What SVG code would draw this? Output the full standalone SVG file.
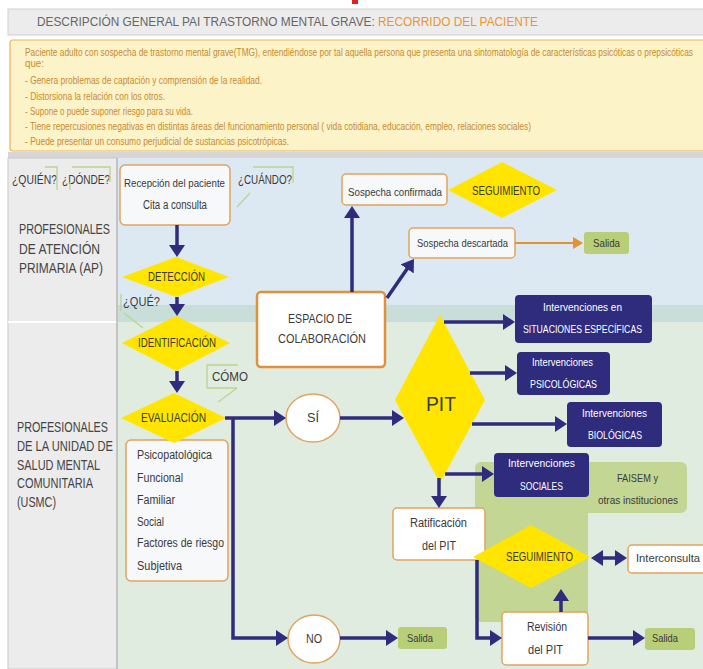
<svg xmlns="http://www.w3.org/2000/svg" width="703" height="669" viewBox="0 0 703 669">
<style>
text{font-family:"Liberation Sans",Arial,sans-serif;fill:#3a3a3a}
.t11{font-size:12px}
.t10{font-size:11px}
.lbl{font-size:14.5px;fill:#444}
.desc{font-size:10.5px;fill:#c88a2c}
.w{fill:#ffffff;font-size:11.5px}
.box{fill:#f6f8fa;stroke:#e0a460;stroke-width:1.5}
.wbox{fill:#ffffff;stroke:#e0a460;stroke-width:1.5}
.dia{fill:#ffe500}
.navy{fill:#2f2b7d}
.olive{fill:#b8ce78}
.ln{fill:none;stroke:#2f2b7d;stroke-width:3.5}
.call{fill:none;stroke:#b9d58f;stroke-width:1.3}
</style>
<defs>
<marker id="an" markerWidth="12" markerHeight="16" refX="4" refY="8" orient="auto" markerUnits="userSpaceOnUse"><path d="M0,0 L12,8 L0,16 z" fill="#2f2b7d"/></marker>
<marker id="as" markerWidth="12" markerHeight="16" refX="4" refY="8" orient="auto-start-reverse" markerUnits="userSpaceOnUse"><path d="M0,0 L12,8 L0,16 z" fill="#2f2b7d"/></marker>
<marker id="ao" markerWidth="10" markerHeight="12" refX="3" refY="6" orient="auto" markerUnits="userSpaceOnUse"><path d="M0,0 L10,6 L0,12 z" fill="#e0932e"/></marker>
</defs>
<rect x="0" y="0" width="703" height="669" fill="#ffffff"/>
<rect x="352" y="0" width="6" height="4" fill="#e02020"/>
<g id="title">
<rect x="8" y="9" width="700" height="26" fill="#ececec" stroke="#cfcfcf"/>
<text x="37" y="26" style="font-size:12.5px;fill:#666" textLength="501" lengthAdjust="spacingAndGlyphs">DESCRIPCIÓN GENERAL PAI TRASTORNO MENTAL GRAVE: <tspan style="fill:#e8962e">RECORRIDO DEL PACIENTE</tspan></text>
</g>
<g id="descripcion">
<rect x="10" y="40" width="700" height="111" rx="3" fill="#fdf3c9" stroke="#e8b464" stroke-width="1.2"/>
<text class="desc" x="25" y="55.5" textLength="668" lengthAdjust="spacingAndGlyphs">Paciente adulto con sospecha de trastorno mental grave(TMG), entendiéndose por tal aquella persona que presenta una sintomatología de características psicóticas o prepsicóticas</text>
<text class="desc" x="25" y="66.5" textLength="19" lengthAdjust="spacingAndGlyphs">que:</text>
<text class="desc" x="25" y="84" textLength="237" lengthAdjust="spacingAndGlyphs">- Genera problemas de captación y comprensión de la realidad.</text>
<text class="desc" x="25" y="99.5" textLength="140" lengthAdjust="spacingAndGlyphs">- Distorsiona la relación con los otros.</text>
<text class="desc" x="25" y="114.5" textLength="168" lengthAdjust="spacingAndGlyphs">- Supone o puede suponer riesgo para su vida.</text>
<text class="desc" x="25" y="129.5" textLength="506" lengthAdjust="spacingAndGlyphs">- Tiene repercusiones negativas en distintas áreas del funcionamiento personal ( vida cotidiana, educación, empleo, relaciones sociales)</text>
<text class="desc" x="25" y="144.5" textLength="264" lengthAdjust="spacingAndGlyphs">- Puede presentar un consumo perjudicial de sustancias psicotrópicas.</text>
</g>
<g id="areas">
<rect x="8" y="152" width="700" height="6" fill="#d6d6d6"/>
<rect x="117" y="158" width="590" height="147" fill="#dde9f2"/>
<rect x="117" y="305" width="590" height="17" fill="#c9ddd9"/>
<rect x="117" y="322" width="590" height="347" fill="#e1ece0"/>
<rect x="8" y="158" width="109" height="511" fill="#ececec" stroke="#c8c8c8"/>
<line x1="8" y1="322" x2="117" y2="322" stroke="#ffffff" stroke-width="2"/>
<line x1="117" y1="158" x2="117" y2="669" stroke="#bcbcbc" stroke-width="1.5"/>
<path d="M475,468 a6,6 0 0 1 6,-6 H681 a6,6 0 0 1 6,6 V507 a6,6 0 0 1 -6,6 H588 V616 a6,6 0 0 1 -6,6 H481 a6,6 0 0 1 -6,-6 Z" fill="#c4d693"/>
</g>
<g id="labels">
<text class="t11" x="12" y="184" textLength="45" lengthAdjust="spacingAndGlyphs">¿QUIÉN?</text>
<text class="t11" x="62" y="184" textLength="48" lengthAdjust="spacingAndGlyphs">¿DÓNDE?</text>
<polyline class="call" points="45,167 57,167 57,190"/>
<polyline class="call" points="70,190 70,182"/>
<polyline class="call" points="72,167 110,167 110,182"/>
<text class="lbl" x="19" y="234" textLength="91" lengthAdjust="spacingAndGlyphs">PROFESIONALES</text>
<text class="lbl" x="19" y="254" textLength="81" lengthAdjust="spacingAndGlyphs">DE ATENCIÓN</text>
<text class="lbl" x="19" y="273" textLength="84" lengthAdjust="spacingAndGlyphs">PRIMARIA (AP)</text>
<text class="lbl" x="17" y="432" textLength="91" lengthAdjust="spacingAndGlyphs">PROFESIONALES</text>
<text class="lbl" x="17" y="451" textLength="96" lengthAdjust="spacingAndGlyphs">DE LA UNIDAD DE</text>
<text class="lbl" x="17" y="470" textLength="83" lengthAdjust="spacingAndGlyphs">SALUD MENTAL</text>
<text class="lbl" x="17" y="488" textLength="76" lengthAdjust="spacingAndGlyphs">COMUNITARIA</text>
<text class="lbl" x="17" y="507" textLength="39" lengthAdjust="spacingAndGlyphs">(USMC)</text>
<text class="t11" x="238" y="184" textLength="54" lengthAdjust="spacingAndGlyphs">¿CUÁNDO?</text>
<polyline class="call" points="253,167 293,167 293,183"/>
<line class="call" x1="250" y1="193" x2="237" y2="207"/>
<text class="t11" x="123" y="306" textLength="37" lengthAdjust="spacingAndGlyphs">¿QUÉ?</text>
<polyline class="call" points="121,294 121,311"/>
<line class="call" x1="124" y1="313" x2="143" y2="328"/>
<text x="212" y="381" style="font-size:13px" textLength="36" lengthAdjust="spacingAndGlyphs">CÓMO</text>
<polyline class="call" points="238,365 207,365 207,388 237,388"/>
<line class="call" x1="237" y1="388" x2="218" y2="402"/>
</g>
<g id="recepcion">
<rect class="box" x="120" y="165" width="110" height="60" rx="5"/>
<text x="124" y="187" style="font-size:11px" textLength="101" lengthAdjust="spacingAndGlyphs">Recepción del paciente</text>
<text class="t11" x="143" y="209" textLength="64" lengthAdjust="spacingAndGlyphs">Cita a consulta</text>
</g>
<g id="deteccion">
<polygon class="dia" points="176,257 229,277 176,297 122,277"/>
<text class="t11" x="148" y="281" textLength="57" lengthAdjust="spacingAndGlyphs">DETECCIÓN</text>
</g>
<g id="identificacion">
<polygon class="dia" points="176,316 230,343 176,371 122,343"/>
<text class="t11" x="138" y="347" textLength="78" lengthAdjust="spacingAndGlyphs">IDENTIFICACIÓN</text>
</g>
<g id="tipos-evaluacion">
<rect class="box" x="126" y="440" width="102" height="141" rx="5"/>
<text class="t11" x="137" y="459" textLength="75" lengthAdjust="spacingAndGlyphs">Psicopatológica</text>
<text class="t11" x="137" y="482" textLength="46" lengthAdjust="spacingAndGlyphs">Funcional</text>
<text class="t11" x="137" y="504" textLength="38" lengthAdjust="spacingAndGlyphs">Familiar</text>
<text class="t11" x="137" y="526" textLength="27" lengthAdjust="spacingAndGlyphs">Social</text>
<text class="t11" x="137" y="547" textLength="87" lengthAdjust="spacingAndGlyphs">Factores de riesgo</text>
<text class="t11" x="137" y="570" textLength="45" lengthAdjust="spacingAndGlyphs">Subjetiva</text>
</g>
<g id="evaluacion">
<polygon class="dia" points="174,393 226,418 174,443 121,418"/>
<text class="t11" x="141" y="422" textLength="65" lengthAdjust="spacingAndGlyphs">EVALUACIÓN</text>
</g>
<g id="espacio">
<rect x="257" y="292" width="128" height="75" rx="4" fill="#ffffff" stroke="#e0913a" stroke-width="2.5"/>
<text x="288" y="323" style="font-size:13.5px" textLength="64" lengthAdjust="spacingAndGlyphs">ESPACIO DE</text>
<text x="278" y="343" style="font-size:13.5px" textLength="88" lengthAdjust="spacingAndGlyphs">COLABORACIÓN</text>
</g>
<g id="confirmada">
<rect class="box" x="342" y="174" width="105" height="31" rx="4"/>
<text class="t10" x="348" y="196" textLength="94" lengthAdjust="spacingAndGlyphs">Sospecha confirmada</text>
</g>
<g id="seguimiento-ap">
<polygon class="dia" points="502,162 557,190 502,218 448,190"/>
<text class="t11" x="472" y="195" textLength="68" lengthAdjust="spacingAndGlyphs">SEGUIMIENTO</text>
</g>
<g id="descartada">
<rect class="box" x="409" y="228" width="106" height="30" rx="4"/>
<text class="t10" x="417" y="247" textLength="91" lengthAdjust="spacingAndGlyphs">Sospecha descartada</text>
</g>
<g id="salida-ap">
<rect class="olive" x="584" y="232" width="45" height="22" rx="3"/>
<text class="t10" x="593" y="247" textLength="27" lengthAdjust="spacingAndGlyphs">Salida</text>
</g>
<g id="si">
<ellipse cx="313" cy="418" rx="27" ry="24" fill="#ffffff" stroke="#e0a460" stroke-width="1.5"/>
<text class="t11" x="307" y="422" textLength="12" lengthAdjust="spacingAndGlyphs">SÍ</text>
</g>
<g id="no">
<ellipse cx="314" cy="639" rx="26" ry="24" fill="#ffffff" stroke="#e0a460" stroke-width="1.5"/>
<text class="t11" x="306" y="643" textLength="16" lengthAdjust="spacingAndGlyphs">NO</text>
</g>
<g id="salida-no">
<rect class="olive" x="398" y="627" width="49" height="22" rx="3"/>
<text class="t10" x="407" y="642" textLength="26" lengthAdjust="spacingAndGlyphs">Salida</text>
</g>
<g id="pit">
<polygon class="dia" points="440,315 485,400 440,483 395,400"/>
<text x="426" y="411" style="font-size:21px" textLength="30" lengthAdjust="spacingAndGlyphs">PIT</text>
</g>
<g id="situaciones">
<rect class="navy" x="515" y="295" width="137" height="48" rx="4"/>
<text class="w" x="543" y="311" textLength="79" lengthAdjust="spacingAndGlyphs">Intervenciones en</text>
<text class="w" x="523" y="333" textLength="119" lengthAdjust="spacingAndGlyphs">SITUACIONES ESPECÍFICAS</text>
</g>
<g id="psicologicas">
<rect class="navy" x="517" y="352" width="93" height="43" rx="4"/>
<text class="w" x="532" y="366" textLength="61" lengthAdjust="spacingAndGlyphs">Intervenciones</text>
<text class="w" x="530" y="388" textLength="67" lengthAdjust="spacingAndGlyphs">PSICOLÓGICAS</text>
</g>
<g id="biologicas">
<rect class="navy" x="567" y="402" width="95" height="45" rx="4"/>
<text class="w" x="582" y="417" textLength="65" lengthAdjust="spacingAndGlyphs">Intervenciones</text>
<text class="w" x="588" y="439" textLength="54" lengthAdjust="spacingAndGlyphs">BIOLÓGICAS</text>
</g>
<g id="sociales">
<rect class="navy" x="494" y="453" width="95" height="44" rx="4"/>
<text class="w" x="508" y="467" textLength="67" lengthAdjust="spacingAndGlyphs">Intervenciones</text>
<text class="w" x="520" y="490" textLength="43" lengthAdjust="spacingAndGlyphs">SOCIALES</text>
</g>
<g id="faisem">
<text class="t10" x="617" y="482" textLength="41" lengthAdjust="spacingAndGlyphs">FAISEM y</text>
<text class="t10" x="598" y="504" textLength="80" lengthAdjust="spacingAndGlyphs">otras instituciones</text>
</g>
<g id="ratificacion">
<rect class="wbox" x="393" y="508" width="92" height="52" rx="4"/>
<text class="t11" x="410" y="527" textLength="57" lengthAdjust="spacingAndGlyphs">Ratificación</text>
<text class="t11" x="422" y="550" textLength="34" lengthAdjust="spacingAndGlyphs">del PIT</text>
</g>
<g id="seguimiento-usmc">
<polygon class="dia" points="531,525 590,557 531,588 473,557"/>
<text class="t11" x="506" y="561" textLength="67" lengthAdjust="spacingAndGlyphs">SEGUIMIENTO</text>
</g>
<g id="interconsulta">
<rect class="wbox" x="628" y="545" width="80" height="28" rx="4"/>
<text x="636" y="562" style="font-size:11px" textLength="64" lengthAdjust="spacingAndGlyphs">Interconsulta</text>
</g>
<g id="revision">
<rect class="wbox" x="502" y="612" width="86" height="53" rx="4"/>
<text class="t11" x="527" y="631" textLength="40" lengthAdjust="spacingAndGlyphs">Revisión</text>
<text class="t11" x="528" y="654" textLength="35" lengthAdjust="spacingAndGlyphs">del PIT</text>
</g>
<g id="salida-revision">
<rect class="olive" x="645" y="628" width="50" height="22" rx="3"/>
<text class="t10" x="652" y="642" textLength="26" lengthAdjust="spacingAndGlyphs">Salida</text>
</g>
<g id="connectors">
<path class="ln" d="M177,225 V249" marker-end="url(#an)"/>
<path class="ln" d="M177,297 V308" marker-end="url(#an)"/>
<path class="ln" d="M177,371 V385" marker-end="url(#an)"/>
<path class="ln" d="M225,418 H278" marker-end="url(#an)"/>
<path class="ln" d="M233,418 V638 H280" marker-end="url(#an)"/>
<path class="ln" d="M340,418 H396" marker-end="url(#an)"/>
<path class="ln" d="M340,638 H390" marker-end="url(#an)"/>
<path class="ln" d="M444,322 H507" marker-end="url(#an)"/>
<path class="ln" d="M470,373 H509" marker-end="url(#an)"/>
<path class="ln" d="M472,424 H559" marker-end="url(#an)"/>
<path class="ln" d="M445,474 H486" marker-end="url(#an)"/>
<path class="ln" d="M439,478 V500" marker-end="url(#an)"/>
<path class="ln" d="M477,560 V638 H494" marker-end="url(#an)"/>
<path class="ln" d="M561,612 V597" marker-end="url(#an)"/>
<path class="ln" d="M588,638 H637" marker-end="url(#an)"/>
<path class="ln" d="M599,558 H619" marker-start="url(#as)" marker-end="url(#an)"/>
<path class="ln" d="M352,292 V214" marker-end="url(#an)"/>
<path class="ln" d="M387,298 L409.4,265.6" marker-end="url(#an)"/>
<path d="M515,243 H576" fill="none" stroke="#e0932e" stroke-width="2" marker-end="url(#ao)"/>
</g>
</svg>
